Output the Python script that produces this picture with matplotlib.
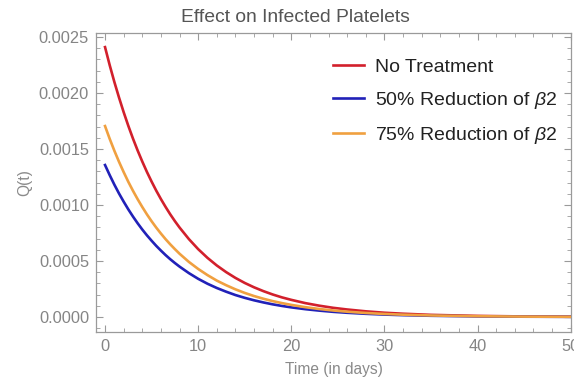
import matplotlib
matplotlib.use("Agg")
import matplotlib.pyplot as plt
from matplotlib.ticker import MultipleLocator

plt.rcParams['font.family'] = ['Liberation Sans', 'DejaVu Sans']
plt.rcParams['mathtext.fontset'] = 'custom'
plt.rcParams['mathtext.rm'] = 'Liberation Sans'
plt.rcParams['mathtext.it'] = 'Liberation Sans:italic'

# Data
t = [0, 0.5, 1, 1.5, 2, 2.5, 3, 3.5, 4, 4.5, 5, 5.5, 6, 6.5, 7, 7.5, 8, 9, 10, 11, 12,
     13, 14, 15, 16, 17, 18, 19, 20, 21.5, 23, 24.5, 26, 28, 30, 32, 35, 40, 45, 50]
no_treatment = [0.00241, 0.002249, 0.002099, 0.001960, 0.001829, 0.001707, 0.001593,
                0.001487, 0.001388, 0.001295, 0.001209, 0.001128, 0.001053, 0.000983,
                0.000917, 0.000856, 0.000799, 0.000696, 0.000606, 0.000528, 0.000460,
                0.000401, 0.000349, 0.000304, 0.000265, 0.000231, 0.000201, 0.000175,
                0.000153, 0.000124, 0.000101, 0.0000819, 0.000067, 0.0000506, 0.000038,
                0.0000292, 0.000019, 0.0000097, 0.0000048, 0.0000024]
reduction_50 = [0.001357, 0.001267, 0.001182, 0.001103, 0.001030, 0.000961, 0.000897,
                0.000837, 0.000781, 0.000729, 0.000681, 0.000635, 0.000593, 0.000553,
                0.000516, 0.000482, 0.000450, 0.000392, 0.000341, 0.000297, 0.000259,
                0.000226, 0.000196, 0.000171, 0.000149, 0.000130, 0.000113, 0.0000987,
                0.0000859, 0.0000699, 0.0000569, 0.0000461, 0.0000376, 0.0000285,
                0.0000216, 0.0000164, 0.0000109, 0.0000054, 0.0000027, 0.0000014]
reduction_75 = [0.001705, 0.001591, 0.001485, 0.001386, 0.001294, 0.001207, 0.001127,
                0.001052, 0.000982, 0.000916, 0.000855, 0.000798, 0.000745, 0.000695,
                0.000649, 0.000606, 0.000565, 0.000492, 0.000429, 0.000374, 0.000325,
                0.000284, 0.000247, 0.000215, 0.000187, 0.000163, 0.000142, 0.000124,
                0.000108, 0.0000878, 0.0000714, 0.0000580, 0.0000472, 0.0000358,
                0.0000271, 0.0000206, 0.0000136, 0.0000068, 0.0000034, 0.0000017]
labels = ["No Treatment", r"50% Reduction of $\it{\beta}$2", r"75% Reduction of $\it{\beta}$2"]
yticks = [0.0000, 0.0005, 0.0010, 0.0015, 0.0020, 0.0025]
xticks = [0, 10, 20, 30, 40, 50]

fig = plt.figure(figsize=(5.74, 3.81), dpi=100)
ax = fig.add_axes([96/574, 1-332/381, (571-96)/574, (332-33)/381])

red = '#d2202c'
blue = '#2121b8'
orange = '#f0a040'
l1, = ax.plot(t, no_treatment, color=red, lw=1.9, label=labels[0], zorder=3)
l2, = ax.plot(t, reduction_50, color=blue, lw=1.9, label=labels[1], zorder=3)
l3, = ax.plot(t, reduction_75, color=orange, lw=1.9, label=labels[2], zorder=4)

ax.set_xlim(-0.97, 50.03)
ax.set_ylim(-0.000134, 0.002536)
ax.set_xticks(xticks)
ax.set_xticklabels([str(v) for v in xticks])
ax.set_yticks(yticks)
ax.set_yticklabels([f"{v:.4f}" for v in yticks])
ax.xaxis.set_minor_locator(MultipleLocator(2))
ax.yaxis.set_minor_locator(MultipleLocator(0.0001))

gray = '#8a8a8a'
for s in ax.spines.values():
    s.set_color('#9a9a9a')
    s.set_linewidth(0.9)
ax.tick_params(which='both', direction='in', top=True, right=True, colors='#9a9a9a',
               labelcolor='#858585', labelsize=11.8)
ax.tick_params(which='major', length=5, width=0.8, pad=5)
ax.tick_params(which='minor', length=2.8, width=0.6)

ax.set_xlabel("Time (in days)", fontsize=11.2, color=gray, labelpad=6)
ax.set_ylabel("Q(t)", fontsize=11.2, color=gray, labelpad=5)

fig.text(295/574, 1-18/381, "Effect on Infected Platelets", ha='center', va='center',
         fontsize=13.9, color='#555555')

leg = ax.legend(handles=[l1, l2, l3], loc='upper left',
                bbox_to_anchor=(333/574, 1-58/381), bbox_transform=fig.transFigure,
                frameon=False, fontsize=14, handlelength=1.6, handletextpad=0.55,
                labelspacing=0.73, borderaxespad=0, borderpad=0)
for txt in leg.get_texts():
    txt.set_color('#222222')

fig.savefig("out.png", dpi=100)
